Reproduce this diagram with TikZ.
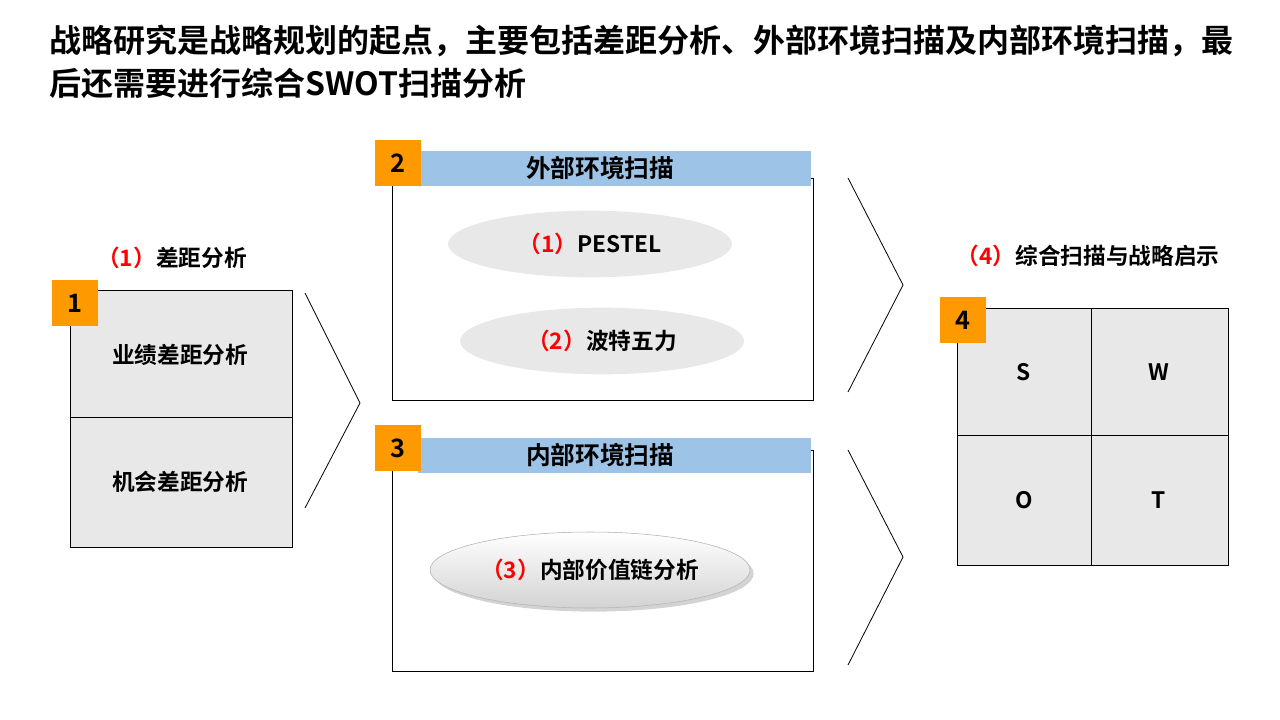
\documentclass[tikz,border=0pt]{standalone}
\usepackage{fontspec}
\setmainfont{Noto Sans CJK SC Bold}
\usetikzlibrary{shadows}
\definecolor{badgeorange}{HTML}{FF9900}
\definecolor{headblue}{HTML}{9DC3E6}
\definecolor{cellgray}{HTML}{E8E8E8}
\tikzset{badge/.style={fill=badgeorange, minimum width=34pt, minimum height=34pt, inner sep=0pt, font=\fontsize{19}{19}\selectfont},
  boxtext/.style={font=\fontsize{17}{17}\selectfont},
  headtext/.style={font=\fontsize{18.5}{18.5}\selectfont},
  oval/.style={ellipse, fill=cellgray, font=\fontsize{17}{17}\selectfont},
  chev/.style={draw, line width=0.6pt}}
\usetikzlibrary{shapes.geometric}
\begin{document}
\begin{tikzpicture}[x=0.75pt,y=-0.75pt]
  \useasboundingbox (0,0) rectangle (1280,720);
  % title
  \node[anchor=west, align=left, font=\fontsize{24}{32}\selectfont] (title) at (45,62)
    {战略研究是战略规划的起点，主要包括差距分析、外部环境扫描及内部环境扫描，最\\后还需要进行综合SWOT扫描分析};

  % (1) gap analysis
  \draw[fill=cellgray] (70,290) rectangle (292,547);
  \draw (70,417) -- (292,417);
  \node[boxtext] (perf) at (180,355) {业绩差距分析};
  \node[boxtext] (oppo) at (180,482) {机会差距分析};
  \node[badge, anchor=north west] (b1) at (52,280) {1};
  \node[boxtext] (l1) at (172,258) {\textcolor{red}{（1）}差距分析};
  \draw[chev] (305,293) -- (360,403) -- (305,508);

  % (2) external
  \draw (392,178) rectangle (813,400);
  \path[fill=headblue] (418,151) rectangle (811,186);
  \node[headtext] (h2) at (600,168) {外部环境扫描};
  \node[badge, anchor=north west] (b2) at (375,140) {2};
  \node[oval, minimum width=213pt, minimum height=50pt] (pest) at (590,244) {\textcolor{red}{（1）}PESTEL};
  \node[oval, minimum width=213pt, minimum height=50pt] (five) at (602,341) {\textcolor{red}{（2）}波特五力};
  \draw[chev] (848,178) -- (903,285) -- (848,392);

  % (3) internal
  \draw (392,450) rectangle (813,671);
  \path[fill=headblue] (418,438) rectangle (811,473);
  \node[headtext] (h3) at (600,455) {内部环境扫描};
  \node[badge, anchor=north west] (b3) at (375,425) {3};
  \node[oval, minimum width=216pt, minimum height=57pt, draw=gray!60, drop shadow={opacity=0.35}, shading=axis, top color=white, bottom color=cellgray!80!gray] (chain) at (590,570) {\textcolor{red}{（3）}内部价值链分析};
  \draw[chev] (848,450) -- (903,557) -- (848,665);

  % (4) SWOT
  \draw[fill=cellgray] (957,308) rectangle (1228,565);
  \draw (1091,308) -- (1091,565) (957,435) -- (1228,435);
  \node[boxtext] (s) at (1024,372) {S};
  \node[boxtext] (w) at (1159,372) {W};
  \node[boxtext] (o) at (1024,500) {O};
  \node[boxtext] (t) at (1159,500) {T};
  \node[badge, anchor=north west] (b4) at (940,297) {4};
  \node[boxtext] (l4) at (1088,256) {\textcolor{red}{（4）}综合扫描与战略启示};
\end{tikzpicture}
\end{document}
